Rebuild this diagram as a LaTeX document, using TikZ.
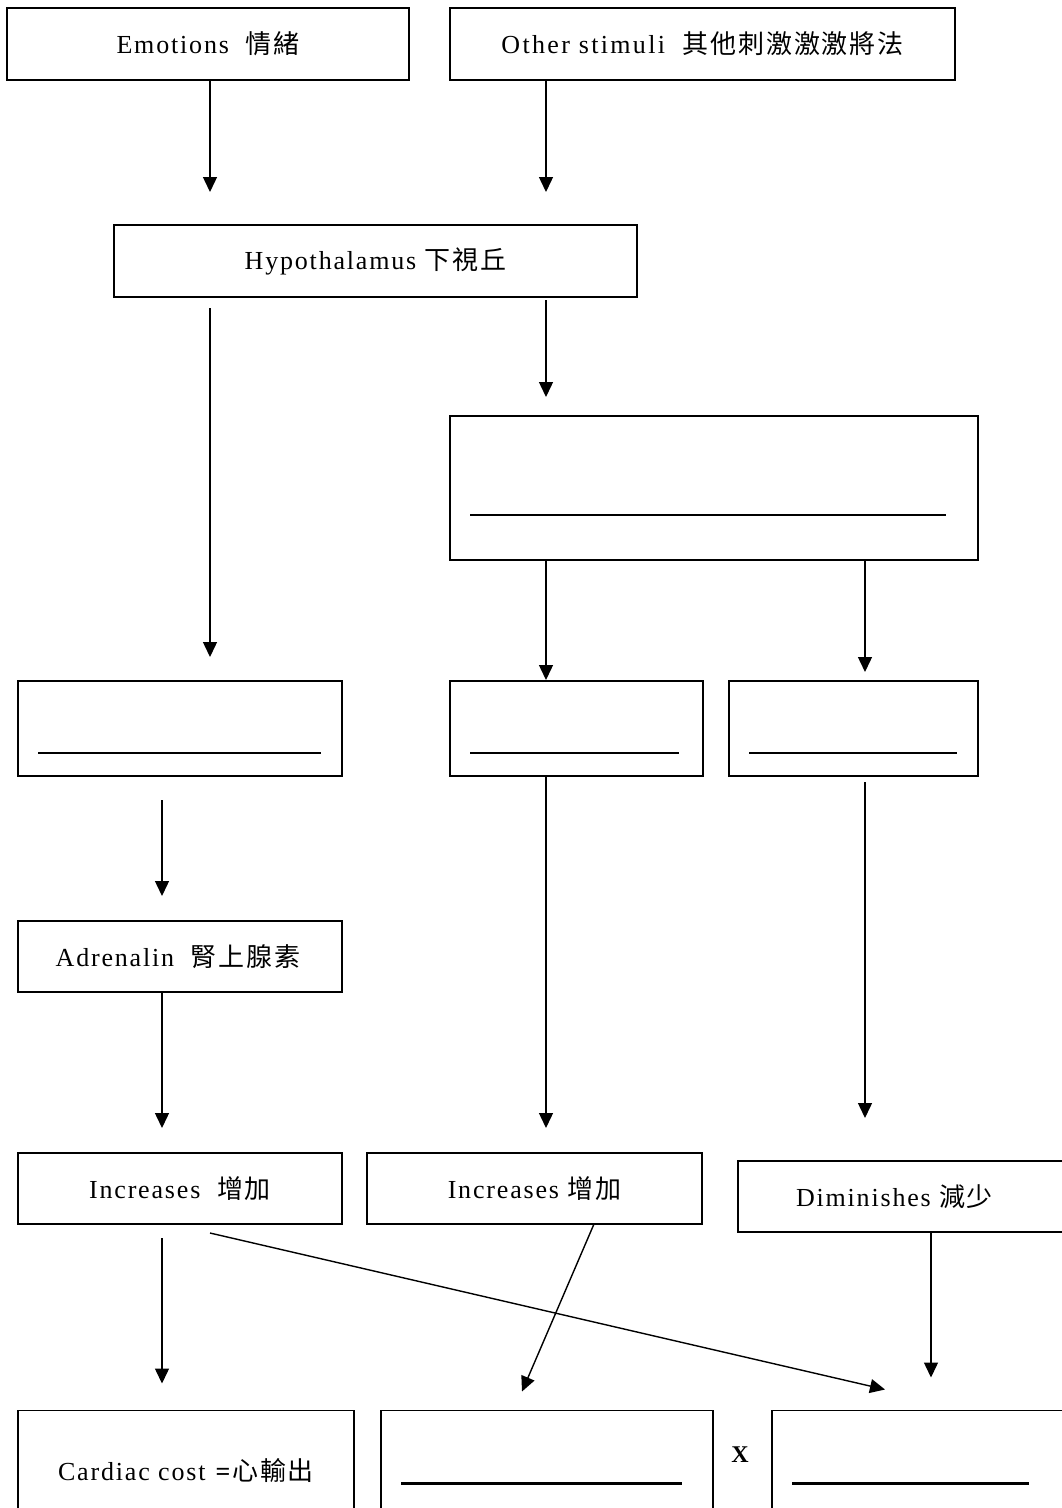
\documentclass[tikz,border=0pt]{standalone}
\usepackage{fontspec}
\setmainfont{Liberation Serif}[LetterSpace=7]
\newfontfamily\cjk{Noto Sans CJK TC}[LetterSpace=7]
\newfontfamily\widelat{Liberation Serif}[LetterSpace=9]
\usetikzlibrary{arrows.meta,calc}
\tikzset{
  box/.style={draw, line width=1.8pt, rectangle, inner sep=0pt, outer sep=0pt, font=\fontsize{26}{31}\selectfont},
  arr/.style={line width=1.4pt, -{Triangle[length=15pt,width=14pt]}},
  blank/.style={line width=2.4pt},
}
\begin{document}
\begin{tikzpicture}[x=1pt,y=-1pt]
\useasboundingbox (0,0) rectangle (1062,1508);
\clip (0,0) rectangle (1062,1508);
\fill[white] (0,0) rectangle (1062,1508);
% column coordinates
\coordinate (xa) at (546,0);
\coordinate (xb) at (865,0);
\coordinate (xc) at (162,0);
\coordinate (xd) at (931,0);
\coordinate (xe) at (210,0);
% boxes
\node[box, minimum width=402pt, minimum height=72pt] (emo) at (208,44) {Emotions\ \ {\cjk 情緒}};
\node[box, minimum width=505pt, minimum height=72pt] (oth) at (702.5,44) {\widelat Other stimuli\ \ {\cjk 其他刺激激激將法}};
\node[box, minimum width=523pt, minimum height=72pt] (hyp) at (375.5,261) {Hypothalamus {\cjk 下視丘}};
\node[box, minimum width=528pt, minimum height=144pt] (big) at (714,488) {};
\node[box, minimum width=324pt, minimum height=95pt] (b1) at (180,728.5) {};
\node[box, minimum width=253pt, minimum height=95pt] (b2) at (576.5,728.5) {};
\node[box, minimum width=249pt, minimum height=95pt] (b3) at (853.5,728.5) {};
\node[box, minimum width=324pt, minimum height=71pt] (adr) at (180,956.5) {\hspace*{-4pt}Adrenalin\ \ {\cjk 腎上腺素}};
\node[box, minimum width=324pt, minimum height=71pt] (inc1) at (180,1188.5) {Increases\ \ {\cjk 增加}};
\node[box, minimum width=335pt, minimum height=71pt] (inc2) at (534.5,1188.5) {Increases {\cjk 增加}};
\node[box, minimum width=337pt, minimum height=71pt] (dim) at (906.5,1196.5) {\hspace*{-24pt}Diminishes {\cjk 減少}};
\node[box, minimum width=336pt, minimum height=119pt] (card) at (186,1470) {\raisebox{-2pt}{Cardiac cost \textbf{=}{\cjk 心輸出}}};
\node[box, minimum width=332pt, minimum height=119pt] (m) at (547,1470) {};
\node[box, minimum width=308pt, minimum height=119pt] (r) at (926,1470) {};
\node[font=\fontsize{24}{28}\selectfont\bfseries] (times) at (740,1455) {X};
% blank answer lines
\draw[blank] ($(big.south west)+(20,-45)$) -- ($(big.south east)+(-32,-45)$);
\draw[blank] ($(b1.south west)+(20,-23)$) -- ($(b1.south east)+(-21,-23)$);
\draw[blank] ($(b2.south west)+(20,-23)$) -- ($(b2.south east)+(-24,-23)$);
\draw[blank] ($(b3.south west)+(20,-23)$) -- ($(b3.south east)+(-21,-23)$);
\draw[blank] ($(m.north west)+(20,73)$) -- ($(m.north east)+(-31,73)$);
\draw[blank] ($(r.north west)+(20,73)$) -- ($(r.north west)+(257,73)$);
% arrows
\draw[arr] (emo.south -| xe) -- ([yshift=33pt]hyp.north -| xe);
\draw[arr] (oth.south -| xa) -- ([yshift=33pt]hyp.north -| xa);
\draw[arr] ([yshift=-11pt]hyp.south -| xe) -- ([yshift=24pt]b1.north -| xe);
\draw[arr] ([yshift=-3pt]hyp.south -| xa) -- ([yshift=19pt]big.north -| xa);
\draw[arr] (big.south -| xa) -- ([yshift=1pt]b2.north -| xa);
\draw[arr] (big.south -| xb) -- ([yshift=9pt]b3.north -| xb);
\draw[arr] ([yshift=-24pt]b1.south -| xc) -- ([yshift=25pt]adr.north -| xc);
\draw[arr] (adr.south -| xc) -- ([yshift=25pt]inc1.north -| xc);
\draw[arr] (b2.south -| xa) -- ([yshift=25pt]inc2.north -| xa);
\draw[arr] ([yshift=-6pt]b3.south -| xb) -- ([yshift=43pt]dim.north -| xb);
\draw[arr] ([yshift=-14pt]inc1.south -| xc) -- ([yshift=27pt]card.north -| xc);
\draw[arr] ($(inc1.south)+(30,9)$) -- ($(r.north west)+(113,-21)$);
\draw[arr] ($(inc2.south)+(59.5,0)$) -- ($(m.north)+(-25,-19)$);
\draw[arr] (dim.south -| xd) -- ([yshift=33pt]r.north -| xd);
\end{tikzpicture}
\end{document}
